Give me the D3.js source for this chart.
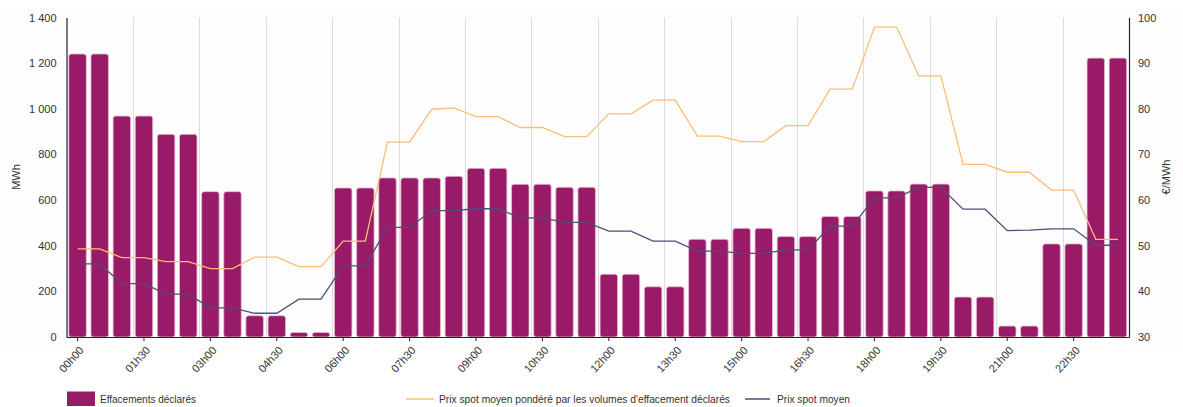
<!DOCTYPE html>
<html><head><meta charset="utf-8">
<script src="https://cdn.jsdelivr.net/npm/d3@7"></script>
<style>
body{margin:0;background:#fff;}
svg{display:block;font-family:"Liberation Sans",Arial,sans-serif;}
</style></head><body>
<svg id="c" width="1183" height="407"></svg>
<script>
const slots = ["00h00","00h30","01h00","01h30","02h00","02h30","03h00","03h30","04h00","04h30","05h00","05h30",
"06h00","06h30","07h00","07h30","08h00","08h30","09h00","09h30","10h00","10h30","11h00","11h30",
"12h00","12h30","13h00","13h30","14h00","14h30","15h00","15h30","16h00","16h30","17h00","17h30",
"18h00","18h30","19h00","19h30","20h00","20h30","21h00","21h30","22h00","22h30","23h00","23h30"];
const effacements = [1240,1240,968,968,888,888,637,637,93,93,20,20,
653,653,697,697,697,704,739,739,669,669,656,656,
275,275,220,220,428,428,476,476,440,440,528,528,
640,640,670,670,175,175,48,48,408,408,1222,1222];
const prixPondere = [49.3,49.3,47.4,47.4,46.5,46.5,45.0,45.0,47.5,47.5,45.4,45.4,
51.0,51.0,72.7,72.7,79.9,80.2,78.3,78.3,75.9,75.9,73.9,73.9,
78.9,78.9,81.9,81.9,74.0,74.0,72.8,72.8,76.3,76.3,84.3,84.3,
97.9,97.9,87.2,87.2,67.8,67.8,66.1,66.1,62.2,62.2,51.4,51.4];
const prixSpot = [46.0,46.0,41.7,41.7,39.4,39.4,36.4,36.4,35.2,35.2,38.3,38.3,
45.6,45.6,54.0,54.0,57.7,57.7,58.1,58.1,56.1,56.1,55.1,55.1,
53.2,53.2,51.0,51.0,48.8,48.8,48.3,48.3,49.1,49.1,54.3,54.3,
60.5,60.5,62.8,62.8,58.0,58.0,53.3,53.4,53.7,53.7,50.1,50.1];
const leftTicks = [0,200,400,600,800,1000,1200,1400];
const rightTicks = [30,40,50,60,70,80,90,100];
const tickLabels = slots.filter((d,i)=>i%3===0);
const legendLabels = ["Effacements déclarés","Prix spot moyen pondéré par les volumes d'effacement déclarés","Prix spot moyen"];

const L=66.5, R=1129, T=17.5, B=337;
const colBar="#991b67", colOrange="#fbbd78", colNavy="#4e4e78";
const svg=d3.select("#c");
svg.append("rect").attr("x",0).attr("y",10).attr("width",1183).attr("height",340).attr("fill","#fdfdfd");

const x=d3.scaleBand().domain(slots).range([L,R]).paddingInner(0.21).paddingOuter(0.105);
const xs=d3.scaleBand().domain(slots).range([L,R]);
const yL=d3.scaleLinear().domain([0,1400]).range([B,T]);
const yR=d3.scaleLinear().domain([30,100]).range([B,T]);

svg.append("g").selectAll("line").data(slots.filter((d,i)=>i%3===0 && i>0)).join("line")
  .attr("x1",d=>Math.round(xs(d))+0.5).attr("x2",d=>Math.round(xs(d))+0.5)
  .attr("y1",T).attr("y2",B).attr("stroke","#dcdcdc").attr("stroke-width",1);

svg.append("g").selectAll("rect").data(effacements).join("rect")
  .attr("x",(d,i)=>x(slots[i])).attr("width",x.bandwidth())
  .attr("y",d=>yL(d)).attr("height",d=>B-yL(d))
  .attr("rx",2.5).attr("fill",colBar).attr("stroke","#e2bcd2").attr("stroke-width",0.8);

const cx=i=>xs(slots[i])+xs.bandwidth()/2;
const lineO=d3.line().x((d,i)=>cx(i)).y(d=>yR(d));
svg.append("path").datum(prixPondere).attr("d",lineO).attr("fill","none").attr("stroke",colOrange).attr("stroke-width",1.3);
svg.append("path").datum(prixSpot).attr("d",lineO).attr("fill","none").attr("stroke",colNavy).attr("stroke-width",1.3);

const gL=svg.append("g").attr("transform",`translate(${L},0)`)
  .call(d3.axisLeft(yL).tickValues(leftTicks).tickSize(0).tickPadding(10).tickFormat(d=>d3.format(",")(d).replace(/,/g," ")));
const gR=svg.append("g").attr("transform",`translate(${R},0)`)
  .call(d3.axisRight(yR).tickValues(rightTicks).tickSize(0).tickPadding(9));
const gB=svg.append("g").attr("transform",`translate(0,${B})`)
  .call(d3.axisBottom(xs).tickValues(tickLabels).tickSize(4).tickSizeOuter(0));
[gL,gR,gB].forEach(g=>{g.select(".domain").attr("stroke","#222").attr("stroke-width",1.2);
  g.selectAll("text").attr("fill","#333").style("font-size","11px");});
gB.selectAll(".tick line").attr("stroke","#222");
gB.selectAll(".tick text").attr("text-anchor","end").attr("x",0).attr("y",0).attr("dy","0.35em")
  .attr("transform","translate(4,11) rotate(-48)");

svg.append("text").attr("transform","translate(20,177) rotate(-90)").attr("text-anchor","middle")
  .style("font-size","11px").attr("fill","#333").text("MWh");
svg.append("text").attr("transform","translate(1170,177) rotate(-90)").attr("text-anchor","middle")
  .style("font-size","11px").attr("fill","#333").text("€/MWh");

const lg=svg.append("g").style("font-size","11px");
lg.append("rect").attr("x",67).attr("y",391.5).attr("width",28).attr("height",14.5).attr("fill",colBar);
lg.append("text").attr("x",100).attr("y",403).attr("fill","#333").attr("textLength",96).attr("lengthAdjust","spacingAndGlyphs").text(legendLabels[0]);
lg.append("line").attr("x1",406).attr("x2",434).attr("y1",399).attr("y2",399).attr("stroke",colOrange).attr("stroke-width",1.5);
lg.append("text").attr("x",439).attr("y",403).attr("fill","#333").attr("textLength",291).attr("lengthAdjust","spacingAndGlyphs").text(legendLabels[1]);
lg.append("line").attr("x1",745).attr("x2",770).attr("y1",399).attr("y2",399).attr("stroke",colNavy).attr("stroke-width",1.5);
lg.append("text").attr("x",777).attr("y",403).attr("fill","#333").attr("textLength",73).attr("lengthAdjust","spacingAndGlyphs").text(legendLabels[2]);
</script></body></html>
